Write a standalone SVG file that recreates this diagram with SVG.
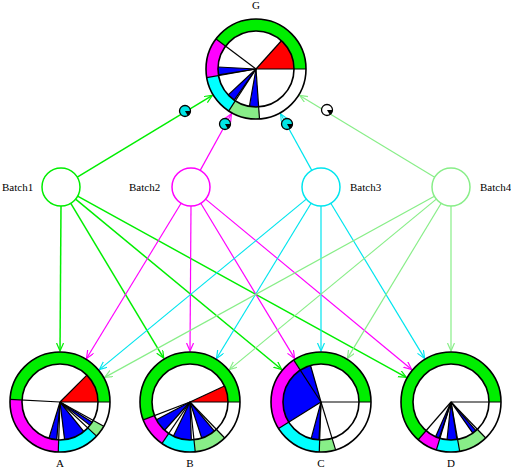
<svg xmlns="http://www.w3.org/2000/svg" width="511" height="468" viewBox="0 0 511 468">
<style>
.lbl{font-family:"Liberation Serif","Times New Roman",serif;font-size:11px;fill:#000}
.ring{fill:none;stroke-width:12}
.pie{fill:none;stroke-width:38}
.ol{fill:none;stroke:#000;stroke-width:1.6}
.b{stroke:#000;stroke-width:1.2}
.bt{fill:#fff;stroke-width:1.5}
.c{fill:none;stroke-width:1.2}
.g1{stroke:#00ee00}.g2{stroke:#ff00ff}.g3{stroke:#00e5ee}.g4{stroke:#88ee88}
.gr{stroke:#00ee00}.mg{stroke:#ff00ff}.cy{stroke:#00ffff}.lg{stroke:#88ee88}.rd{stroke:#ff0000}.bl{stroke:#0000ff}
.ic{stroke:#000;stroke-width:1.3}
</style>
<defs>
<marker id="m1" markerUnits="userSpaceOnUse" markerWidth="10" markerHeight="10" refX="8" refY="3.5" orient="auto"><path d="M0,0 L8,3.5 L0,7" fill="none" stroke="#00ee00" stroke-width="1.2"/></marker>
<marker id="m2" markerUnits="userSpaceOnUse" markerWidth="10" markerHeight="10" refX="8" refY="3.5" orient="auto"><path d="M0,0 L8,3.5 L0,7" fill="none" stroke="#ff00ff" stroke-width="1.2"/></marker>
<marker id="m3" markerUnits="userSpaceOnUse" markerWidth="10" markerHeight="10" refX="8" refY="3.5" orient="auto"><path d="M0,0 L8,3.5 L0,7" fill="none" stroke="#00e5ee" stroke-width="1.2"/></marker>
<marker id="m4" markerUnits="userSpaceOnUse" markerWidth="10" markerHeight="10" refX="8" refY="3.5" orient="auto"><path d="M0,0 L8,3.5 L0,7" fill="none" stroke="#88ee88" stroke-width="1.2"/></marker>
</defs>
<rect width="511" height="468" fill="#fff"/>
<g id="connectors">
<g class="c g1" marker-end="url(#m1)" style="stroke-width:1.5">
<line x1="77.3" y1="177.2" x2="212.4" y2="95.4"/>
<line x1="61" y1="206" x2="60" y2="351"/>
<line x1="70.8" y1="203.3" x2="163.8" y2="358.3"/>
<line x1="75.6" y1="199.1" x2="281.7" y2="369.5"/>
<line x1="77.6" y1="196.2" x2="406.3" y2="377.4"/>
</g>
<g class="c g2" marker-end="url(#m2)">
<line x1="200.2" y1="170.4" x2="231.4" y2="113.7"/>
<line x1="181.1" y1="203.2" x2="86.5" y2="358.5"/>
<line x1="191" y1="206" x2="190" y2="351"/>
<line x1="200.8" y1="203.3" x2="294.6" y2="358.4"/>
<line x1="205.6" y1="199.1" x2="411.7" y2="369.5"/>
</g>
<g class="c g3" marker-end="url(#m3)">
<line x1="311.8" y1="170.4" x2="280.6" y2="113.7"/>
<line x1="306.3" y1="199.1" x2="99.4" y2="369.6"/>
<line x1="311.1" y1="203.2" x2="216.5" y2="358.5"/>
<line x1="321" y1="206" x2="321" y2="351"/>
<line x1="330.8" y1="203.3" x2="424.6" y2="358.4"/>
</g>
<g class="c g4" marker-end="url(#m4)">
<line x1="434.7" y1="177.2" x2="299.6" y2="95.4"/>
<line x1="434.4" y1="196.2" x2="104.7" y2="377.4"/>
<line x1="436.3" y1="199.1" x2="229.4" y2="369.6"/>
<line x1="441.2" y1="203.3" x2="347.4" y2="358.4"/>
<line x1="451" y1="206" x2="451" y2="351"/>
</g>
<g id="icons">
<g transform="translate(185,111)"><circle r="5.5" fill="#00e5e5" class="ic"/><path d="M0,0 L5.5,0 A5.5,5.5 0 0 1 2.8,4.7 Z" fill="#000"/></g>
<g transform="translate(225,124)"><circle r="5.5" fill="#00e5e5" class="ic"/><path d="M0,0 L5.5,0 A5.5,5.5 0 0 1 2.8,4.7 Z" fill="#000"/></g>
<g transform="translate(287,124)"><circle r="5.5" fill="#00e5e5" class="ic"/><path d="M0,0 L5.5,0 A5.5,5.5 0 0 1 2.8,4.7 Z" fill="#000"/></g>
<g transform="translate(327,110)"><circle r="5.5" fill="#fff" class="ic"/><path d="M0,0 L5.5,0 A5.5,5.5 0 0 1 2.8,4.7 Z" fill="#000"/></g>
</g>
</g>

<g id="node-Batch1"><circle cx="61" cy="187" r="19" class="bt g1"/><text x="2" y="191" class="lbl">Batch1</text></g>
<g id="node-Batch2"><circle cx="191" cy="187" r="19" class="bt g2"/><text x="129" y="191" class="lbl">Batch2</text></g>
<g id="node-Batch3"><circle cx="321" cy="187" r="19" class="bt g3"/><text x="350" y="191" class="lbl">Batch3</text></g>
<g id="node-Batch4"><circle cx="451" cy="187" r="19" class="bt g4"/><text x="480" y="191" class="lbl">Batch4</text></g>

<g id="node-G">
<text x="256" y="9" class="lbl" text-anchor="middle">G</text>
<g transform="translate(256,69)">
<circle r="50" fill="#fff"/>
<circle r="44" class="ring gr" pathLength="360" stroke-dasharray="143 360" stroke-dashoffset="-217"/>
<circle r="44" class="ring mg" pathLength="360" stroke-dasharray="47 360" stroke-dashoffset="-170"/>
<circle r="44" class="ring cy" pathLength="360" stroke-dasharray="47 360" stroke-dashoffset="-123"/>
<circle r="44" class="ring lg" pathLength="360" stroke-dasharray="37 360" stroke-dashoffset="-86"/>
<circle r="19" class="pie rd" pathLength="360" stroke-dasharray="48 360" stroke-dashoffset="-312"/>
<circle r="19" class="pie bl" pathLength="360" stroke-dasharray="12 360" stroke-dashoffset="-171"/>
<circle r="19" class="pie bl" pathLength="360" stroke-dasharray="12 360" stroke-dashoffset="-125"/>
<circle r="19" class="pie bl" pathLength="360" stroke-dasharray="14 360" stroke-dashoffset="-86"/>
<line class="b" x2="50"/>
<line class="b" x2="50" transform="rotate(217)"/>
<line class="b" x2="50" transform="rotate(170)"/>
<line class="b" x2="50" transform="rotate(123)"/>
<line class="b" x2="50" transform="rotate(86)"/>
<line class="b" x2="38" transform="rotate(312)"/>
<line class="b" x2="38" transform="rotate(171)"/>
<line class="b" x2="38" transform="rotate(183)"/>
<line class="b" x2="38" transform="rotate(125)"/>
<line class="b" x2="38" transform="rotate(137)"/>
<line class="b" x2="38" transform="rotate(100)"/>
<circle r="50" class="ol"/><circle r="38" class="ol"/>
</g>
</g>

<g id="node-A">
<text x="60" y="467" class="lbl" text-anchor="middle">A</text>
<g transform="translate(60,402)">
<circle r="50" fill="#fff"/>
<circle r="44" class="ring gr" pathLength="360" stroke-dasharray="177 360" stroke-dashoffset="-183"/>
<circle r="44" class="ring mg" pathLength="360" stroke-dasharray="91 360" stroke-dashoffset="-92"/>
<circle r="44" class="ring cy" pathLength="360" stroke-dasharray="49 360" stroke-dashoffset="-43"/>
<circle r="44" class="ring lg" pathLength="360" stroke-dasharray="14 360" stroke-dashoffset="-29"/>
<circle r="19" class="pie rd" pathLength="360" stroke-dasharray="45 360" stroke-dashoffset="-315"/>
<circle r="19" class="pie bl" pathLength="360" stroke-dasharray="12 360" stroke-dashoffset="-95"/>
<circle r="19" class="pie bl" pathLength="360" stroke-dasharray="32 360" stroke-dashoffset="-51"/>
<circle r="19" class="pie bl" pathLength="360" stroke-dasharray="6 360" stroke-dashoffset="-32"/>
<line class="b" x2="50"/>
<line class="b" x2="50" transform="rotate(183)"/>
<line class="b" x2="50" transform="rotate(92)"/>
<line class="b" x2="50" transform="rotate(43)"/>
<line class="b" x2="50" transform="rotate(29)"/>
<line class="b" x2="38" transform="rotate(315)"/>
<line class="b" x2="38" transform="rotate(95)"/>
<line class="b" x2="38" transform="rotate(107)"/>
<line class="b" x2="38" transform="rotate(51)"/>
<line class="b" x2="38" transform="rotate(83)"/>
<line class="b" x2="38" transform="rotate(32)"/>
<line class="b" x2="38" transform="rotate(38)"/>
<circle r="50" class="ol"/><circle r="38" class="ol"/>
</g>
</g>

<g id="node-B">
<text x="190" y="467" class="lbl" text-anchor="middle">B</text>
<g transform="translate(190,402)">
<circle r="50" fill="#fff"/>
<circle r="44" class="ring gr" pathLength="360" stroke-dasharray="201 360" stroke-dashoffset="-159"/>
<circle r="44" class="ring mg" pathLength="360" stroke-dasharray="35 360" stroke-dashoffset="-124"/>
<circle r="44" class="ring cy" pathLength="360" stroke-dasharray="40 360" stroke-dashoffset="-84"/>
<circle r="44" class="ring lg" pathLength="360" stroke-dasharray="38 360" stroke-dashoffset="-46"/>
<circle r="19" class="pie rd" pathLength="360" stroke-dasharray="25 360" stroke-dashoffset="-335"/>
<circle r="19" class="pie bl" pathLength="360" stroke-dasharray="20 360" stroke-dashoffset="-132"/>
<circle r="19" class="pie bl" pathLength="360" stroke-dasharray="28 360" stroke-dashoffset="-88"/>
<circle r="19" class="pie bl" pathLength="360" stroke-dasharray="22 360" stroke-dashoffset="-50"/>
<line class="b" x2="50"/>
<line class="b" x2="50" transform="rotate(159)"/>
<line class="b" x2="50" transform="rotate(124)"/>
<line class="b" x2="50" transform="rotate(84)"/>
<line class="b" x2="50" transform="rotate(46)"/>
<line class="b" x2="38" transform="rotate(335)"/>
<line class="b" x2="38" transform="rotate(132)"/>
<line class="b" x2="38" transform="rotate(152)"/>
<line class="b" x2="38" transform="rotate(88)"/>
<line class="b" x2="38" transform="rotate(116)"/>
<line class="b" x2="38" transform="rotate(50)"/>
<line class="b" x2="38" transform="rotate(72)"/>
<circle r="50" class="ol"/><circle r="38" class="ol"/>
</g>
</g>

<g id="node-C">
<text x="321" y="467" class="lbl" text-anchor="middle">C</text>
<g transform="translate(321,402)">
<circle r="50" fill="#fff"/>
<circle r="44" class="ring gr" pathLength="360" stroke-dasharray="123 360" stroke-dashoffset="-237"/>
<circle r="44" class="ring mg" pathLength="360" stroke-dasharray="89 360" stroke-dashoffset="-148"/>
<circle r="44" class="ring cy" pathLength="360" stroke-dasharray="56 360" stroke-dashoffset="-92"/>
<circle r="44" class="ring lg" pathLength="360" stroke-dasharray="19 360" stroke-dashoffset="-73"/>
<circle r="19" class="pie bl" pathLength="360" stroke-dasharray="106 360" stroke-dashoffset="-148"/>
<circle r="19" class="pie bl" pathLength="360" stroke-dasharray="12 360" stroke-dashoffset="-93"/>
<line class="b" x2="50"/>
<line class="b" x2="50" transform="rotate(237)"/>
<line class="b" x2="50" transform="rotate(148)"/>
<line class="b" x2="50" transform="rotate(92)"/>
<line class="b" x2="50" transform="rotate(73)"/>
<line class="b" x2="38" transform="rotate(254)"/>
<line class="b" x2="38" transform="rotate(93)"/>
<line class="b" x2="38" transform="rotate(105)"/>
<circle r="50" class="ol"/><circle r="38" class="ol"/>
</g>
</g>

<g id="node-D">
<text x="451" y="467" class="lbl" text-anchor="middle">D</text>
<g transform="translate(451,402)">
<circle r="50" fill="#fff"/>
<circle r="44" class="ring gr" pathLength="360" stroke-dasharray="229 360" stroke-dashoffset="-131"/>
<circle r="44" class="ring mg" pathLength="360" stroke-dasharray="24 360" stroke-dashoffset="-107"/>
<circle r="44" class="ring cy" pathLength="360" stroke-dasharray="27 360" stroke-dashoffset="-80"/>
<circle r="44" class="ring lg" pathLength="360" stroke-dasharray="34 360" stroke-dashoffset="-46"/>
<circle r="19" class="pie bl" pathLength="360" stroke-dasharray="6 360" stroke-dashoffset="-108"/>
<circle r="19" class="pie bl" pathLength="360" stroke-dasharray="15 360" stroke-dashoffset="-81"/>
<circle r="19" class="pie bl" pathLength="360" stroke-dasharray="6 360" stroke-dashoffset="-49"/>
<line class="b" x2="50"/>
<line class="b" x2="50" transform="rotate(131)"/>
<line class="b" x2="50" transform="rotate(107)"/>
<line class="b" x2="50" transform="rotate(80)"/>
<line class="b" x2="50" transform="rotate(46)"/>
<line class="b" x2="38" transform="rotate(108)"/>
<line class="b" x2="38" transform="rotate(114)"/>
<line class="b" x2="38" transform="rotate(81)"/>
<line class="b" x2="38" transform="rotate(96)"/>
<line class="b" x2="38" transform="rotate(49)"/>
<line class="b" x2="38" transform="rotate(55)"/>
<circle r="50" class="ol"/><circle r="38" class="ol"/>
</g>
</g>
</svg>
